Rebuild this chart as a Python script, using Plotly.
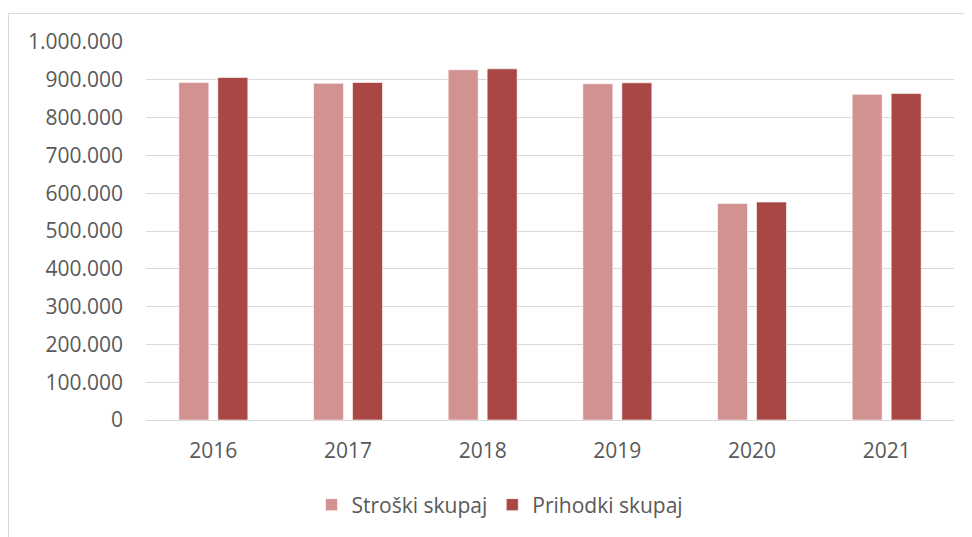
import plotly.graph_objects as go

years = ["2016", "2017", "2018", "2019", "2020", "2021"]
stroski = [893000, 890700, 926700, 889700, 573000, 861600]
prihodki = [906000, 893000, 929000, 892000, 576700, 864000]
series_names = ["Stroški skupaj", "Prihodki skupaj"]
y_ticks = [0, 100000, 200000, 300000, 400000, 500000, 600000, 700000, 800000, 900000, 1000000]

W, H = 972, 537
OFF = 8  # page body margin offset
L, T = 146 - OFF, 42 - OFF
R = W - (954 - OFF)
B = H - (420 - OFF)
pw, ph = W - L - R, H - T - B

font_fam = "Open Sans, Liberation Sans, sans-serif"
txt_col = "#595959"

fig = go.Figure()
fig.add_trace(go.Bar(x=years, y=stroski, name=series_names[0],
                     marker=dict(color="#D39292", line=dict(color="rgba(255,255,255,0.6)", width=1))))
fig.add_trace(go.Bar(x=years, y=prihodki, name=series_names[1],
                     marker=dict(color="#A94745", line=dict(color="rgba(255,255,255,0.6)", width=1))))

# screen pixel -> paper coords
def px2x(p):
    return (p - OFF - L) / pw

def px2y(p):
    return (H - B - (p - OFF)) / ph

fig.add_shape(type="rect", xref="paper", yref="paper",
              x0=px2x(8.5), x1=px2x(990), y0=px2y(550), y1=px2y(13.5),
              line=dict(color="#D9D9D9", width=1), fillcolor="rgba(0,0,0,0)", layer="below")

fig.update_layout(
    width=W, height=H,
    margin=dict(l=L, r=R, t=T, b=B, autoexpand=False),
    paper_bgcolor="white", plot_bgcolor="white",
    barmode="group", bargap=0.421, bargroupgap=0.23,
    separators=",.",
    font=dict(family=font_fam, size=21, color=txt_col),
    showlegend=True,
    legend=dict(orientation="h", xref="paper", x=px2x(500), xanchor="center",
                yref="paper", y=px2y(505), yanchor="middle",
                font=dict(family=font_fam, size=21, color=txt_col),
                itemwidth=30, traceorder="normal", bgcolor="rgba(0,0,0,0)"),
    xaxis=dict(showgrid=False, showline=False, zeroline=False, ticks="",
               ticklabelstandoff=16, tickfont=dict(size=21, color=txt_col)),
    yaxis=dict(range=[0, 1000000], tickvals=y_ticks, tickformat=",d",
               showgrid=True, gridcolor="#D9D9D9", gridwidth=1,
               zeroline=True, zerolinecolor="#D9D9D9", zerolinewidth=1,
               showline=False, ticks="", ticklabelstandoff=22,
               tickfont=dict(size=21, color=txt_col)),
)

fig.write_html("out.html")
